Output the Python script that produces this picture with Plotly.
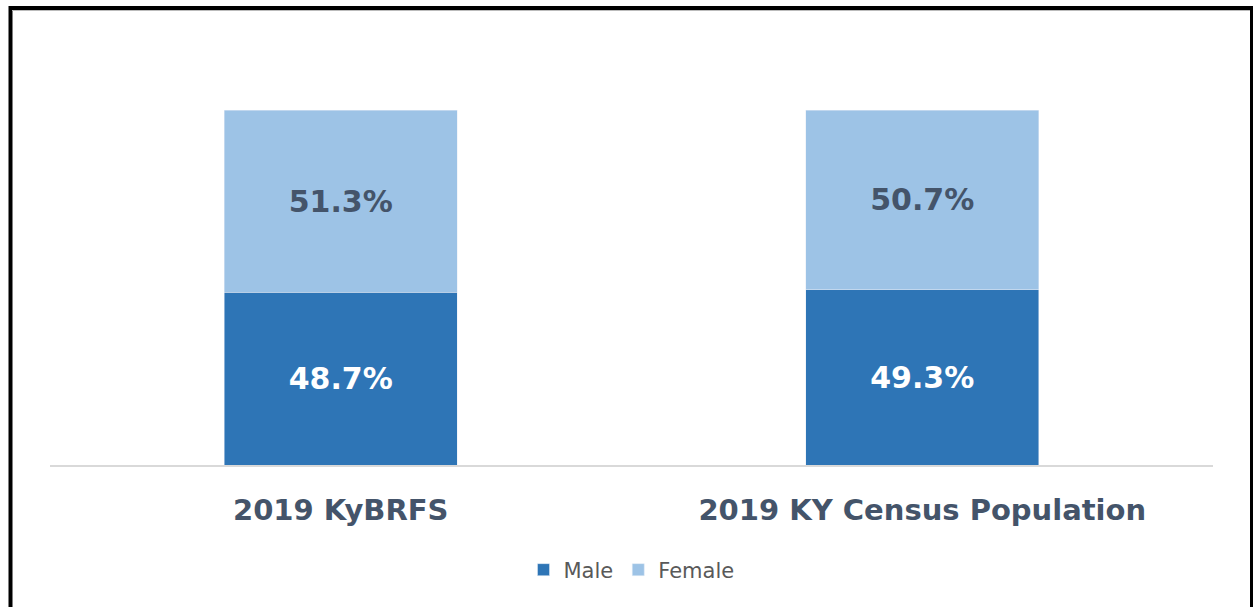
import plotly.graph_objects as go

categories = ["2019 KyBRFS", "2019 KY Census Population"]
male = [48.7, 49.3]
female = [51.3, 50.7]

W, H = 1253, 607
L, R, T, B = 50, 40, 110, 142
pw, ph = W - L - R, H - T - B

def px(x):
    return (x - L) / pw

def py(y):
    return (H - B - y) / ph

FONT = "DejaVu Sans"

fig = go.Figure()
fig.add_trace(go.Bar(
    name="Male", x=categories, y=male, marker_color="#2E75B6",
    text=[f"{v:.1f}%" for v in male], textposition="inside",
    insidetextanchor="middle",
    textfont=dict(color="white", size=30, family=FONT, weight="bold"),
))
fig.add_trace(go.Bar(
    name="Female", x=categories, y=female, marker_color="#9DC3E6",
    text=[f"{v:.1f}%" for v in female], textposition="inside",
    insidetextanchor="middle",
    textfont=dict(color="#44546A", size=30, family=FONT, weight="bold"),
))

shapes = [
    dict(type="line", xref="paper", yref="paper", x0=px(10.5), x1=px(10.5), y0=py(6), y1=py(620),
         line=dict(color="black", width=4)),
    dict(type="line", xref="paper", yref="paper", x0=px(9), x1=px(1253), y0=py(8), y1=py(8),
         line=dict(color="black", width=4)),
    dict(type="line", xref="paper", yref="paper", x0=px(12), x1=px(1250), y0=py(10.5), y1=py(10.5),
         line=dict(color="#BBBBBB", width=1)),
    dict(type="line", xref="paper", yref="paper", x0=px(1251.5), x1=px(1251.5), y0=py(6), y1=py(620),
         line=dict(color="black", width=3)),
]

fig.update_layout(
    barmode="stack",
    bargap=0.6,
    width=W, height=H,
    margin=dict(l=L, r=R, t=T, b=B),
    plot_bgcolor="white", paper_bgcolor="white",
    font=dict(family=FONT, color="#595959"),
    showlegend=True,
    legend=dict(orientation="h", x=0.5, xanchor="center", y=py(570), yanchor="middle",
                font=dict(size=21, color="#595959", family=FONT), itemwidth=30,
                traceorder="normal"),
    xaxis=dict(showline=True, linecolor="#D9D9D9", linewidth=2, ticks="",
               ticklabelstandoff=18,
               tickfont=dict(size=29, color="#44546A", family=FONT, weight="bold")),
    yaxis=dict(range=[0, 100], visible=False, showgrid=False),
    shapes=shapes,
    uniformtext=dict(mode=False),
)

fig.write_html("out.html", config={"displayModeBar": False},
               post_script="document.body.style.margin='0px';")
